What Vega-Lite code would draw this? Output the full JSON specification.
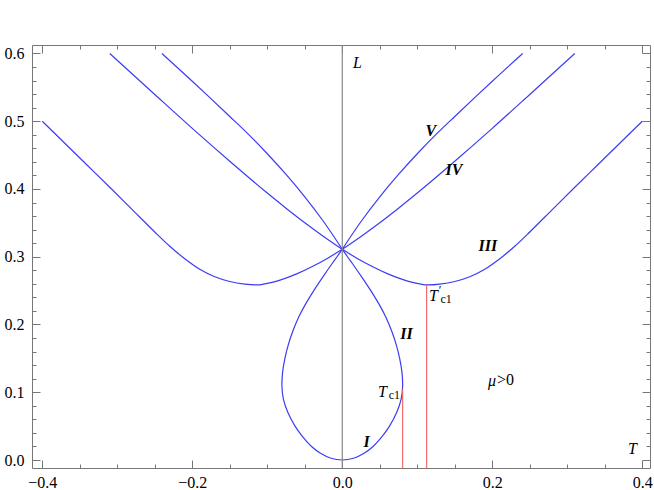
{
  "$schema": "https://vega.github.io/schema/vega-lite/v6.json",
  "width": 618,
  "height": 423,
  "autosize": {"type": "none"},
  "padding": {"left": 32, "top": 45, "right": 4, "bottom": 22},
  "background": "white",
  "config": {
    "view": {"stroke": null},
    "axis": {"grid": false, "labelFont": "Liberation Serif", "labelFontSize": 16, "labelColor": "black", "domainColor": "#777", "tickColor": "#777", "title": null}
  },
  "datasets": {
    "curves": [
      {"c": "IIIR", "i": 0, "x": 0, "y": 0.311},
      {"c": "IIIR", "i": 1, "x": 0.02, "y": 0.2975},
      {"c": "IIIR", "i": 2, "x": 0.04, "y": 0.2855},
      {"c": "IIIR", "i": 3, "x": 0.06, "y": 0.275},
      {"c": "IIIR", "i": 4, "x": 0.08, "y": 0.2665},
      {"c": "IIIR", "i": 5, "x": 0.095, "y": 0.2618},
      {"c": "IIIR", "i": 6, "x": 0.105, "y": 0.2596},
      {"c": "IIIR", "i": 7, "x": 0.113, "y": 0.2585},
      {"c": "IIIR", "i": 8, "x": 0.13, "y": 0.2597},
      {"c": "IIIR", "i": 9, "x": 0.15, "y": 0.2635},
      {"c": "IIIR", "i": 10, "x": 0.17, "y": 0.2705},
      {"c": "IIIR", "i": 11, "x": 0.19, "y": 0.2815},
      {"c": "IIIR", "i": 12, "x": 0.21, "y": 0.297},
      {"c": "IIIR", "i": 13, "x": 0.23, "y": 0.3155},
      {"c": "IIIR", "i": 14, "x": 0.25, "y": 0.3365},
      {"c": "IIIR", "i": 15, "x": 0.28, "y": 0.3695},
      {"c": "IIIR", "i": 16, "x": 0.31, "y": 0.4025},
      {"c": "IIIR", "i": 17, "x": 0.34, "y": 0.435},
      {"c": "IIIR", "i": 18, "x": 0.37, "y": 0.4675},
      {"c": "IIIR", "i": 19, "x": 0.4, "y": 0.5},
      {"c": "IIIL", "i": 0, "x": 0, "y": 0.311},
      {"c": "IIIL", "i": 1, "x": -0.02, "y": 0.2975},
      {"c": "IIIL", "i": 2, "x": -0.04, "y": 0.2855},
      {"c": "IIIL", "i": 3, "x": -0.06, "y": 0.275},
      {"c": "IIIL", "i": 4, "x": -0.08, "y": 0.2665},
      {"c": "IIIL", "i": 5, "x": -0.095, "y": 0.2618},
      {"c": "IIIL", "i": 6, "x": -0.105, "y": 0.2596},
      {"c": "IIIL", "i": 7, "x": -0.113, "y": 0.2585},
      {"c": "IIIL", "i": 8, "x": -0.13, "y": 0.2597},
      {"c": "IIIL", "i": 9, "x": -0.15, "y": 0.2635},
      {"c": "IIIL", "i": 10, "x": -0.17, "y": 0.2705},
      {"c": "IIIL", "i": 11, "x": -0.19, "y": 0.2815},
      {"c": "IIIL", "i": 12, "x": -0.21, "y": 0.297},
      {"c": "IIIL", "i": 13, "x": -0.23, "y": 0.3155},
      {"c": "IIIL", "i": 14, "x": -0.25, "y": 0.3365},
      {"c": "IIIL", "i": 15, "x": -0.28, "y": 0.3695},
      {"c": "IIIL", "i": 16, "x": -0.31, "y": 0.4025},
      {"c": "IIIL", "i": 17, "x": -0.34, "y": 0.435},
      {"c": "IIIL", "i": 18, "x": -0.37, "y": 0.4675},
      {"c": "IIIL", "i": 19, "x": -0.4, "y": 0.5},
      {"c": "VR", "i": 0, "x": 0, "y": 0.311},
      {"c": "VR", "i": 1, "x": 0.025, "y": 0.352},
      {"c": "VR", "i": 2, "x": 0.05, "y": 0.3885},
      {"c": "VR", "i": 3, "x": 0.075, "y": 0.4215},
      {"c": "VR", "i": 4, "x": 0.1, "y": 0.452},
      {"c": "VR", "i": 5, "x": 0.125, "y": 0.4805},
      {"c": "VR", "i": 6, "x": 0.15, "y": 0.507},
      {"c": "VR", "i": 7, "x": 0.2, "y": 0.559},
      {"c": "VR", "i": 8, "x": 0.2405, "y": 0.6},
      {"c": "VL", "i": 0, "x": 0, "y": 0.311},
      {"c": "VL", "i": 1, "x": -0.025, "y": 0.352},
      {"c": "VL", "i": 2, "x": -0.05, "y": 0.3885},
      {"c": "VL", "i": 3, "x": -0.075, "y": 0.4215},
      {"c": "VL", "i": 4, "x": -0.1, "y": 0.452},
      {"c": "VL", "i": 5, "x": -0.125, "y": 0.4805},
      {"c": "VL", "i": 6, "x": -0.15, "y": 0.507},
      {"c": "VL", "i": 7, "x": -0.2, "y": 0.559},
      {"c": "VL", "i": 8, "x": -0.2405, "y": 0.6},
      {"c": "IVR", "i": 0, "x": 0, "y": 0.311},
      {"c": "IVR", "i": 1, "x": 0.025, "y": 0.33},
      {"c": "IVR", "i": 2, "x": 0.05, "y": 0.3502},
      {"c": "IVR", "i": 3, "x": 0.075, "y": 0.3717},
      {"c": "IVR", "i": 4, "x": 0.1, "y": 0.394},
      {"c": "IVR", "i": 5, "x": 0.15, "y": 0.441},
      {"c": "IVR", "i": 6, "x": 0.2, "y": 0.4895},
      {"c": "IVR", "i": 7, "x": 0.25, "y": 0.5395},
      {"c": "IVR", "i": 8, "x": 0.31, "y": 0.6},
      {"c": "IVL", "i": 0, "x": 0, "y": 0.311},
      {"c": "IVL", "i": 1, "x": -0.025, "y": 0.33},
      {"c": "IVL", "i": 2, "x": -0.05, "y": 0.3502},
      {"c": "IVL", "i": 3, "x": -0.075, "y": 0.3717},
      {"c": "IVL", "i": 4, "x": -0.1, "y": 0.394},
      {"c": "IVL", "i": 5, "x": -0.15, "y": 0.441},
      {"c": "IVL", "i": 6, "x": -0.2, "y": 0.4895},
      {"c": "IVL", "i": 7, "x": -0.25, "y": 0.5395},
      {"c": "IVL", "i": 8, "x": -0.31, "y": 0.6},
      {"c": "LOOP", "i": 0, "x": 0, "y": 0.311},
      {"c": "LOOP", "i": 1, "x": 0.007, "y": 0.3},
      {"c": "LOOP", "i": 2, "x": 0.0135, "y": 0.29},
      {"c": "LOOP", "i": 3, "x": 0.026, "y": 0.27},
      {"c": "LOOP", "i": 4, "x": 0.038, "y": 0.25},
      {"c": "LOOP", "i": 5, "x": 0.049, "y": 0.23},
      {"c": "LOOP", "i": 6, "x": 0.0585, "y": 0.21},
      {"c": "LOOP", "i": 7, "x": 0.066, "y": 0.19},
      {"c": "LOOP", "i": 8, "x": 0.072, "y": 0.17},
      {"c": "LOOP", "i": 9, "x": 0.0765, "y": 0.15},
      {"c": "LOOP", "i": 10, "x": 0.0795, "y": 0.13},
      {"c": "LOOP", "i": 11, "x": 0.0805, "y": 0.11},
      {"c": "LOOP", "i": 12, "x": 0.0785, "y": 0.09},
      {"c": "LOOP", "i": 13, "x": 0.0725, "y": 0.07},
      {"c": "LOOP", "i": 14, "x": 0.063, "y": 0.05},
      {"c": "LOOP", "i": 15, "x": 0.054, "y": 0.036},
      {"c": "LOOP", "i": 16, "x": 0.041, "y": 0.02},
      {"c": "LOOP", "i": 17, "x": 0.029, "y": 0.0099},
      {"c": "LOOP", "i": 18, "x": 0.016, "y": 0.003},
      {"c": "LOOP", "i": 19, "x": 0, "y": 0},
      {"c": "LOOP", "i": 20, "x": -0.016, "y": 0.003},
      {"c": "LOOP", "i": 21, "x": -0.029, "y": 0.0099},
      {"c": "LOOP", "i": 22, "x": -0.041, "y": 0.02},
      {"c": "LOOP", "i": 23, "x": -0.054, "y": 0.036},
      {"c": "LOOP", "i": 24, "x": -0.063, "y": 0.05},
      {"c": "LOOP", "i": 25, "x": -0.0725, "y": 0.07},
      {"c": "LOOP", "i": 26, "x": -0.0785, "y": 0.09},
      {"c": "LOOP", "i": 27, "x": -0.0805, "y": 0.11},
      {"c": "LOOP", "i": 28, "x": -0.0795, "y": 0.13},
      {"c": "LOOP", "i": 29, "x": -0.0765, "y": 0.15},
      {"c": "LOOP", "i": 30, "x": -0.072, "y": 0.17},
      {"c": "LOOP", "i": 31, "x": -0.066, "y": 0.19},
      {"c": "LOOP", "i": 32, "x": -0.0585, "y": 0.21},
      {"c": "LOOP", "i": 33, "x": -0.049, "y": 0.23},
      {"c": "LOOP", "i": 34, "x": -0.038, "y": 0.25},
      {"c": "LOOP", "i": 35, "x": -0.026, "y": 0.27},
      {"c": "LOOP", "i": 36, "x": -0.0135, "y": 0.29},
      {"c": "LOOP", "i": 37, "x": -0.007, "y": 0.3},
      {"c": "LOOP", "i": 38, "x": 0, "y": 0.311}
    ],
    "reds": [
      {"x": 0.0805, "y0": -0.0118, "y1": 0.105},
      {"x": 0.1125, "y0": -0.0118, "y1": 0.2585}
    ],
    "zero": [{"x": 0}],
    "labels": [
      {"t": "L", "x": 0.0203, "y": 0.5855, "s": "it"},
      {"t": "T", "x": 0.387, "y": 0.0162, "s": "it"},
      {"t": "μ", "x": 0.1996, "y": 0.117, "s": "it"},
      {"t": ">0", "x": 0.2175, "y": 0.118, "s": "rm"},
      {"t": "T", "x": 0.0536, "y": 0.1007, "s": "it"},
      {"t": "T", "x": 0.1216, "y": 0.2419, "s": "it"},
      {"t": "V", "x": 0.118, "y": 0.485, "s": "bold"},
      {"t": "IV", "x": 0.149, "y": 0.428, "s": "bold"},
      {"t": "III", "x": 0.194, "y": 0.316, "s": "bold"},
      {"t": "II", "x": 0.0856, "y": 0.1866, "s": "bold"},
      {"t": "I", "x": 0.0325, "y": 0.0265, "s": "bold"},
      {"t": "c1", "x": 0.0695, "y": 0.0965, "s": "sub"},
      {"t": "c1", "x": 0.1385, "y": 0.2375, "s": "sub"},
      {"t": "′", "x": 0.1305, "y": 0.2515, "s": "sub"}
    ]
  },
  "layer": [
    {
      "data": {"name": "curves"},
      "mark": {"type": "line", "interpolate": "catmull-rom", "color": "#3c3cf5", "strokeWidth": 1.2},
      "encoding": {
        "x": {
          "field": "x", "type": "quantitative",
          "scale": {"domain": [-0.4137, 0.4103], "nice": false, "zero": false},
          "axis": {
            "orient": "bottom",
            "values": [-0.4, -0.35, -0.3, -0.25, -0.2, -0.15, -0.1, -0.05, 0, 0.05, 0.1, 0.15, 0.2, 0.25, 0.3, 0.35, 0.4],
            "format": ".1f",
            "labelFont": "Liberation Serif",
            "labelFontSize": 16,
            "labelExpr": "abs(datum.value*5 - round(datum.value*5)) < 0.001 ? datum.label : ''",
            "tickSize": {"condition": {"test": "abs(datum.value*5 - round(datum.value*5)) < 0.001", "value": -8}, "value": -4},
            "labelPadding": 14,
            "labelFlush": false,
            "labelOverlap": false
          }
        },
        "y": {
          "field": "y", "type": "quantitative",
          "scale": {"domain": [-0.0118, 0.6125], "nice": false, "zero": false},
          "axis": {
            "orient": "left",
            "values": [0, 0.02, 0.04, 0.06, 0.08, 0.1, 0.12, 0.14, 0.16, 0.18, 0.2, 0.22, 0.24, 0.26, 0.28, 0.3, 0.32, 0.34, 0.36, 0.38, 0.4, 0.42, 0.44, 0.46, 0.48, 0.5, 0.52, 0.54, 0.56, 0.58, 0.6],
            "format": ".1f",
            "labelFont": "Liberation Serif",
            "labelFontSize": 16,
            "labelExpr": "abs(datum.value*10 - round(datum.value*10)) < 0.001 ? datum.label : ''",
            "tickSize": {"condition": {"test": "abs(datum.value*10 - round(datum.value*10)) < 0.001", "value": -8}, "value": -4},
            "labelPadding": 16,
            "labelFlush": false,
            "labelOverlap": false
          }
        },
        "detail": {"field": "c"},
        "order": {"field": "i", "type": "quantitative"}
      }
    },
    {
      "data": {"name": "zero"},
      "mark": {"type": "rule", "color": "#888", "strokeWidth": 1.2},
      "encoding": {
        "x": {"field": "x", "type": "quantitative", "axis": null}
      }
    },
    {
      "data": {"name": "reds"},
      "mark": {"type": "rule", "color": "#f26060", "strokeWidth": 1.1},
      "encoding": {
        "x": {"field": "x", "type": "quantitative", "axis": null},
        "y": {"field": "y0", "type": "quantitative", "axis": null},
        "y2": {"field": "y1"}
      }
    },
    {
      "data": {"name": "labels"},
      "transform": [{"filter": "datum.s == 'it'"}],
      "mark": {"type": "text", "font": "Liberation Serif", "fontSize": 16, "fontStyle": "italic", "color": "black", "align": "center", "baseline": "middle"},
      "encoding": {
        "x": {
          "field": "x", "type": "quantitative",
          "axis": {
            "orient": "top",
            "values": [-0.4, -0.35, -0.3, -0.25, -0.2, -0.15, -0.1, -0.05, 0, 0.05, 0.1, 0.15, 0.2, 0.25, 0.3, 0.35, 0.4],
            "labels": false,
            "tickSize": {"condition": {"test": "abs(datum.value*5 - round(datum.value*5)) < 0.001", "value": -8}, "value": -4}
          }
        },
        "y": {
          "field": "y", "type": "quantitative",
          "axis": {
            "orient": "right",
            "values": [0, 0.02, 0.04, 0.06, 0.08, 0.1, 0.12, 0.14, 0.16, 0.18, 0.2, 0.22, 0.24, 0.26, 0.28, 0.3, 0.32, 0.34, 0.36, 0.38, 0.4, 0.42, 0.44, 0.46, 0.48, 0.5, 0.52, 0.54, 0.56, 0.58, 0.6],
            "labels": false,
            "tickSize": {"condition": {"test": "abs(datum.value*10 - round(datum.value*10)) < 0.001", "value": -8}, "value": -4}
          }
        },
        "text": {"field": "t"}
      }
    },
    {
      "data": {"name": "labels"},
      "transform": [{"filter": "datum.s == 'bold'"}],
      "mark": {"type": "text", "font": "Liberation Serif", "fontSize": 16, "fontStyle": "italic", "fontWeight": "bold", "color": "black", "align": "center", "baseline": "middle"},
      "encoding": {
        "x": {"field": "x", "type": "quantitative", "axis": null},
        "y": {"field": "y", "type": "quantitative", "axis": null},
        "text": {"field": "t"}
      }
    },
    {
      "data": {"name": "labels"},
      "transform": [{"filter": "datum.s == 'rm'"}],
      "mark": {"type": "text", "font": "Liberation Serif", "fontSize": 16, "color": "black", "align": "center", "baseline": "middle"},
      "encoding": {
        "x": {"field": "x", "type": "quantitative", "axis": null},
        "y": {"field": "y", "type": "quantitative", "axis": null},
        "text": {"field": "t"}
      }
    },
    {
      "data": {"name": "labels"},
      "transform": [{"filter": "datum.s == 'sub'"}],
      "mark": {"type": "text", "font": "Liberation Serif", "fontSize": 12, "color": "black", "align": "center", "baseline": "middle"},
      "encoding": {
        "x": {"field": "x", "type": "quantitative", "axis": null},
        "y": {"field": "y", "type": "quantitative", "axis": null},
        "text": {"field": "t"}
      }
    }
  ],
  "resolve": {"axis": {"x": "independent", "y": "independent"}}
}
